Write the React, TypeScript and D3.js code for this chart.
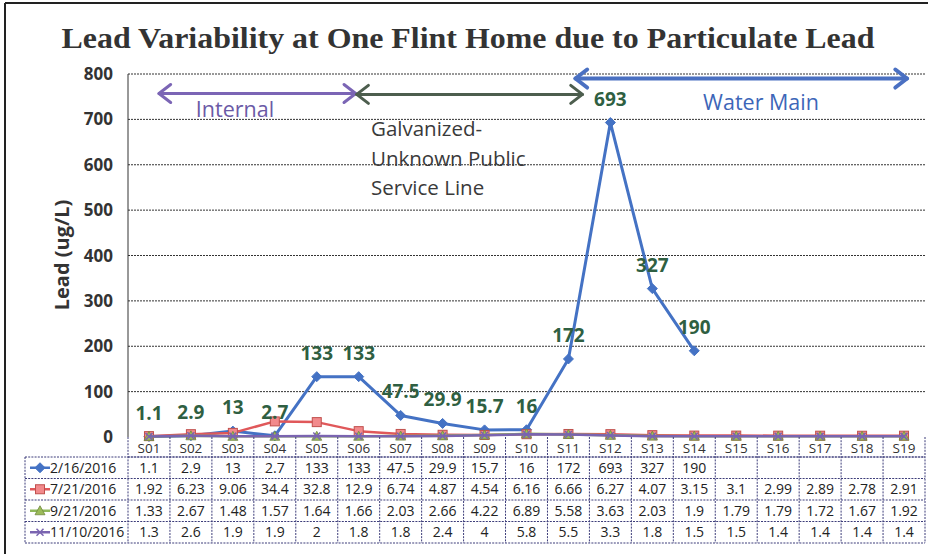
import React from "react";
import * as d3 from "d3";

const categories = ["S01","S02","S03","S04","S05","S06","S07","S08","S09","S10","S11","S12","S13","S14","S15","S16","S17","S18","S19"];
const yTicks = [0,100,200,300,400,500,600,700,800];

const s0216: (number|null)[] = [1.1,2.9,13,2.7,133,133,47.5,29.9,15.7,16,172,693,327,190,null,null,null,null,null];
const s0721: (number|null)[] = [1.92,6.23,9.06,34.4,32.8,12.9,6.74,4.87,4.54,6.16,6.66,6.27,4.07,3.15,3.1,2.99,2.89,2.78,2.91];
const s0921: (number|null)[] = [1.33,2.67,1.48,1.57,1.64,1.66,2.03,2.66,4.22,6.89,5.58,3.63,2.03,1.9,1.79,1.79,1.72,1.67,1.92];
const s1110: (number|null)[] = [1.3,2.6,1.9,1.9,2,1.8,1.8,2.4,4,5.8,5.5,3.3,1.8,1.5,1.5,1.4,1.4,1.4,1.4];

const seriesNames = ["2/16/2016","7/21/2016","9/21/2016","11/10/2016"];
const seriesValues = [s0216, s0721, s0921, s1110];
const seriesColors = ["#4472c4","#e0585a","#8fb85a","#7a64b0"];
const seriesMarkers = ["diamond","square","triangle","x"];

const title = "Lead Variability at One Flint Home due to Particulate Lead";
const yTitle = "Lead (ug/L)";

const annInternal = { from: "S01", to: "S06", y: 757, label: "Internal" };
const annGalv = { from: "S06", to: "S11", y: 755, lines: ["Galvanized-", "Unknown Public", "Service Line"] };
const annWater = { from: "S11", to: "S19", y: 790, label: "Water Main" };

function Marker({ kind, x, y, color }: { kind: string; x: number; y: number; color: string }) {
  if (kind === "diamond") {
    const r = 5;
    return <path d={`M${x},${y - r}L${x + r},${y}L${x},${y + r}L${x - r},${y}Z`} fill={color} stroke={color} />;
  }
  if (kind === "square") {
    return <rect x={x - 4.5} y={y - 4.5} width={9} height={9} fill="#f28a8c" stroke="#c0504d" strokeWidth={1} />;
  }
  if (kind === "triangle") {
    const r = 5;
    return <path d={`M${x},${y - r}L${x + r},${y + r * 0.8}L${x - r},${y + r * 0.8}Z`} fill="#9bbb59" stroke="#71893f" strokeWidth={0.8} />;
  }
  const r = 3.5;
  return <path d={`M${x - r},${y - r}L${x + r},${y + r}M${x + r},${y - r}L${x - r},${y + r}`} stroke={color} strokeWidth={1.5} />;
}

function Arrow({ x1, x2, y, color, w }: { x1: number; x2: number; y: number; color: string; w: number }) {
  const h = 9;
  return (
    <g stroke={color} strokeWidth={w} fill="none" strokeLinecap="round" strokeLinejoin="round">
      <line x1={x1} y1={y} x2={x2} y2={y} />
      <path d={`M${x1 + h * 1.3},${y - h}L${x1},${y}L${x1 + h * 1.3},${y + h}`} />
      <path d={`M${x2 - h * 1.3},${y - h}L${x2},${y}L${x2 - h * 1.3},${y + h}`} />
    </g>
  );
}

export default function App() {
  const W = 928, H = 554;
  const left = 128, right = 925, top = 74, zeroY = 437;
  const x = d3.scaleBand<string>().domain(categories).range([left, right]).padding(0);
  const y = d3.scaleLinear().domain([0, 800]).range([zeroY, top]);
  const bw = x.bandwidth();
  const cx = (c: string) => (x(c) as number) + bw / 2;

  const line = d3.line<number | null>()
    .defined(d => d !== null)
    .x((_, i) => cx(categories[i]))
    .y(d => y(d as number));

  const catTop = zeroY;
  const catBot = 457;
  const rowH = 21.5;
  const rowTops = seriesNames.map((_, i) => catBot + i * rowH);
  const tableBot = catBot + 4 * rowH;
  const tLeft = 25;
  const grid = "#3d3d7a";
  const dash = "2,1.2";
  const sans = "'Open Sans', 'Liberation Sans', sans-serif";

  const order = [0, 1, 2, 3];

  return (
    <svg width={W} height={H} style={{ position: "absolute", left: 0, top: 0, background: "#fff" }} xmlns="http://www.w3.org/2000/svg">
      <rect x={0} y={0} width={W} height={H} fill="#fff" />
      <line x1={5} y1={3} x2={W} y2={3} stroke="#222" strokeWidth={2} />
      <line x1={5} y1={3} x2={5} y2={H} stroke="#222" strokeWidth={2} />

      <text x={468} y={48} textAnchor="middle" fontFamily="'Liberation Serif', 'DejaVu Serif', serif" fontWeight="bold" fontSize={30} fill="#333" textLength={813} lengthAdjust="spacingAndGlyphs">{title}</text>

      {yTicks.filter(t => t > 0).map(t => (
        <line key={t} x1={left} x2={right} y1={y(t)} y2={y(t)} stroke="#333" strokeWidth={1} strokeDasharray="2,1" />
      ))}
      <line x1={left} x2={left} y1={top} y2={zeroY} stroke="#333" strokeWidth={1} />
      {yTicks.map(t => (
        <text key={t} x={113} y={y(t) + 6} textAnchor="end" fontFamily={sans} fontWeight="bold" fontSize={17} fill="#333">{t}</text>
      ))}
      <text transform={`translate(69,255) rotate(-90)`} textAnchor="middle" fontFamily={sans} fontWeight="bold" fontSize={20} fill="#333">{yTitle}</text>

      <Arrow x1={cx(annInternal.from) + 10} x2={cx(annInternal.to) - 3} y={y(annInternal.y)} color="#7b65b5" w={3} />
      <text x={235} y={117} textAnchor="middle" fontFamily={sans} fontSize={21.5} fill="#6b5aa6">{annInternal.label}</text>
      <Arrow x1={cx(annGalv.from) - 2} x2={cx(annGalv.to) + 14} y={y(annGalv.y)} color="#4d5e4e" w={3} />
      {annGalv.lines.map((l, i) => (
        <text key={l} x={371} y={136 + i * 29.5} fontFamily={sans} fontSize={20.5} fill="#3a3a3a">{l}</text>
      ))}
      <Arrow x1={cx(annWater.from) + 7} x2={cx(annWater.to) + 3} y={y(annWater.y)} color="#4a70c2" w={4} />
      <text x={761} y={110} textAnchor="middle" fontFamily={sans} fontSize={21.5} fill="#3d66b8">{annWater.label}</text>

      {order.map(si => (
        <g key={si}>
          <path d={line(seriesValues[si]) || ""} fill="none" stroke={seriesColors[si]} strokeWidth={si === 0 ? 3 : 2.5} strokeLinejoin="round" />
          {seriesValues[si].map((v, i) => v === null ? null : (
            <Marker key={i} kind={seriesMarkers[si]} x={cx(categories[i])} y={y(v)} color={seriesColors[si]} />
          ))}
        </g>
      ))}

      {s0216.map((v, i) => v === null ? null : (
        <text key={i} x={cx(categories[i])} y={y(v) - 17} textAnchor="middle" fontFamily={sans} fontWeight="bold" fontSize={19} fill="#2f5f42">{String(v)}</text>
      ))}

      <g>
        <line x1={left} x2={right} y1={catBot} y2={catBot} stroke={grid} strokeWidth={1} strokeDasharray={dash} />
        {categories.map((c) => (
          <g key={c}>
            <line x1={(x(c) as number) + bw} x2={(x(c) as number) + bw} y1={catTop} y2={tableBot} stroke={grid} strokeWidth={1} strokeDasharray={dash} />
            <text x={cx(c)} y={catTop + 15.5} textAnchor="middle" fontFamily={sans} fontSize={13.5} fill="#333">{c}</text>
          </g>
        ))}
        <line x1={tLeft} x2={tLeft} y1={catBot} y2={tableBot} stroke={grid} strokeWidth={1} strokeDasharray={dash} />
        <line x1={left} x2={left} y1={catTop} y2={tableBot} stroke={grid} strokeWidth={1} strokeDasharray={dash} />
        <line x1={tLeft} x2={right} y1={catBot} y2={catBot} stroke={grid} strokeWidth={1} strokeDasharray={dash} />
        {seriesNames.map((n, si) => {
          const ty = rowTops[si];
          const my = ty + rowH / 2;
          return (
            <g key={n}>
              <line x1={tLeft} x2={right} y1={ty + rowH} y2={ty + rowH} stroke={grid} strokeWidth={1} strokeDasharray={dash} />
              <line x1={30} x2={50} y1={my} y2={my} stroke={seriesColors[si]} strokeWidth={2.5} />
              <Marker kind={seriesMarkers[si]} x={40} y={my} color={seriesColors[si]} />
              <text x={50} y={my + 5} fontFamily={sans} fontSize={14} fill="#222">{n}</text>
              {seriesValues[si].map((v, i) => v === null ? null : (
                <text key={i} x={cx(categories[i])} y={my + 5} textAnchor="middle" fontFamily={sans} fontSize={14} fill="#222">{String(v)}</text>
              ))}
            </g>
          );
        })}
      </g>
    </svg>
  );
}
